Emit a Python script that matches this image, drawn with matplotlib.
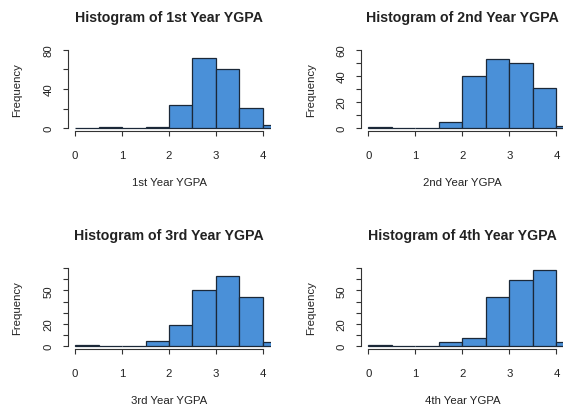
import numpy as np
import matplotlib
matplotlib.use("Agg")
import matplotlib.pyplot as plt

plt.rcParams['font.family'] = ['Liberation Sans', 'DejaVu Sans']

# bin edges shared by every histogram (GPA in steps of 0.5)
edges = [0.0, 0.5, 1.0, 1.5, 2.0, 2.5, 3.0, 3.5, 4.0]
years = ['1st', '2nd', '3rd', '4th']

# counts per bin for each year
counts_1st = [0, 1, 0, 1, 24, 72, 60, 21, 3]
counts_2nd = [1, 0, 0, 5, 40, 53, 50, 31, 2]
counts_3rd = [1, 0, 0, 5, 19, 50, 63, 44, 4]
counts_4th = [1, 0, 0, 4, 7, 44, 59, 68, 4]
all_counts = [counts_1st, counts_2nd, counts_3rd, counts_4th]

# y axis: upper limit, tick positions and which ticks get a label
y_tops = [80, 60, 70, 70]
y_ticks = [[0, 20, 40, 60, 80],
           [0, 10, 20, 30, 40, 50, 60],
           [0, 10, 20, 30, 40, 50, 60, 70],
           [0, 10, 20, 30, 40, 50, 60, 70]]
y_labels = [['0', '', '40', '', '80'],
            ['0', '', '20', '', '40', '', '60'],
            ['0', '', '20', '', '', '50', '', ''],
            ['0', '', '20', '', '', '50', '', '']]

W, H = 563, 410
fig = plt.figure(figsize=(W / 100, H / 100), dpi=100)

# plot regions in pixels: left, right, top, bottom
regions = [(67.5, 270.5, 47.5, 132.4),
           (360.8, 564.0, 47.5, 132.4),
           (67.5, 270.5, 265.8, 350.4),
           (360.8, 564.0, 265.8, 350.4)]

bar_color = '#4A90D8'
edge_color = '#1B2838'
ink = '#222222'

for i in range(4):
    l, r, t, b = regions[i]
    ax = fig.add_axes([l / W, 1 - b / H, (r - l) / W, (b - t) / H])
    ax.patch.set_visible(False)

    counts = all_counts[i]
    lefts = np.arange(0, 4.5, 0.5)
    ax.bar(lefts, counts, width=0.5, align='edge', color=bar_color,
           edgecolor=edge_color, linewidth=0.9)

    top = y_tops[i]
    ax.set_xlim(-0.16, 4.16)
    ax.set_ylim(-0.04 * top, 1.04 * top)

    for side in ['top', 'right']:
        ax.spines[side].set_visible(False)
    ax.spines['bottom'].set_bounds(0, 4)
    ax.spines['left'].set_bounds(0, y_ticks[i][-1])
    for side in ['bottom', 'left']:
        ax.spines[side].set_color('#333333')
        ax.spines[side].set_linewidth(0.8)

    ax.set_xticks([0, 1, 2, 3, 4])
    ax.set_xticklabels(['0', '1', '2', '3', '4'])
    ax.set_yticks(y_ticks[i])
    ax.set_yticklabels(y_labels[i], rotation=90, va='center')
    ax.tick_params(axis='x', direction='out', length=3.6, width=0.8,
                   color='#333333', labelsize=8.2, labelcolor=ink, pad=10)
    ax.tick_params(axis='y', direction='out', length=3.6, width=0.8,
                   color='#333333', labelsize=8.2, labelcolor=ink, pad=6.5)

    ax.annotate('Histogram of ' + years[i] + ' Year YGPA', xy=(0.5, 1),
                xycoords='axes fraction', xytext=(0, 29.5),
                textcoords='offset pixels', ha='center', va='center',
                fontsize=10.2, fontweight='bold', color=ink)
    ax.annotate(years[i] + ' Year YGPA', xy=(0.5, 0),
                xycoords='axes fraction', xytext=(0, -50.5),
                textcoords='offset pixels', ha='center', va='center',
                fontsize=8.2, color=ink)
    ax.annotate('Frequency', xy=(0, 0.5), xycoords='axes fraction',
                xytext=(-50, 0), textcoords='offset pixels',
                ha='center', va='center', rotation=90,
                fontsize=8.2, color=ink)

fig.savefig('out.png', dpi=100)
